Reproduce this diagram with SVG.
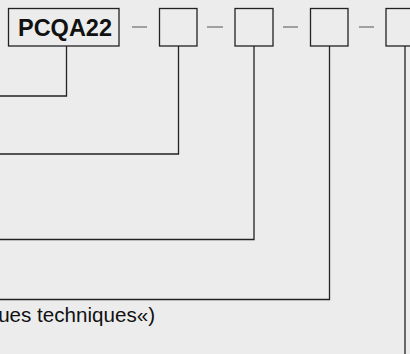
<svg xmlns="http://www.w3.org/2000/svg" width="410" height="354" viewBox="0 0 410 354">
<style>
.bg{fill:#ececec}
.box{fill:none;stroke:#222;stroke-width:1.3}
.dash{stroke:#777;stroke-width:1.3}
.conn{fill:none;stroke:#222;stroke-width:1.3}
.code{font-family:"Liberation Sans",Arial,sans-serif;font-weight:bold;font-size:23.5px;fill:#111}
.lbl{font-family:"Liberation Sans",Arial,sans-serif;font-size:20.6px;fill:#111}
</style>
<rect class="bg" x="0" y="0" width="410" height="354"/>
<g id="connectors">
<polyline class="conn" points="66.5,46 66.5,96 -2,96"/>
<polyline class="conn" points="178.5,46 178.5,154 -2,154"/>
<polyline class="conn" points="254,46 254,239.5 -2,239.5"/>
<polyline class="conn" points="329.5,46 329.5,299.5 -2,299.5"/>
<polyline class="conn" points="405,46 405,356"/>
</g>
<g id="dashes">
<line class="dash" x1="132" y1="27" x2="147" y2="27"/>
<line class="dash" x1="207" y1="27" x2="223" y2="27"/>
<line class="dash" x1="283" y1="27" x2="298" y2="27"/>
<line class="dash" x1="359" y1="27" x2="374" y2="27"/>
</g>
<g id="node-pcqa22">
<rect class="box" x="8.5" y="8.5" width="110.5" height="37.5"/>
<text class="code" x="65" y="35.5" text-anchor="middle">PCQA22</text>
</g>
<g id="node-box2"><rect class="box" x="159.5" y="8.5" width="37.5" height="37.5"/></g>
<g id="node-box3"><rect class="box" x="235" y="8.5" width="38" height="37.5"/></g>
<g id="node-box4"><rect class="box" x="310.5" y="8.5" width="37.5" height="37.5"/></g>
<g id="node-box5"><rect class="box" x="386" y="8.5" width="38" height="37.5"/></g>
<g id="label-row4">
<text class="lbl" x="155" y="322" text-anchor="end">ues techniques«)</text>
</g>
</svg>
